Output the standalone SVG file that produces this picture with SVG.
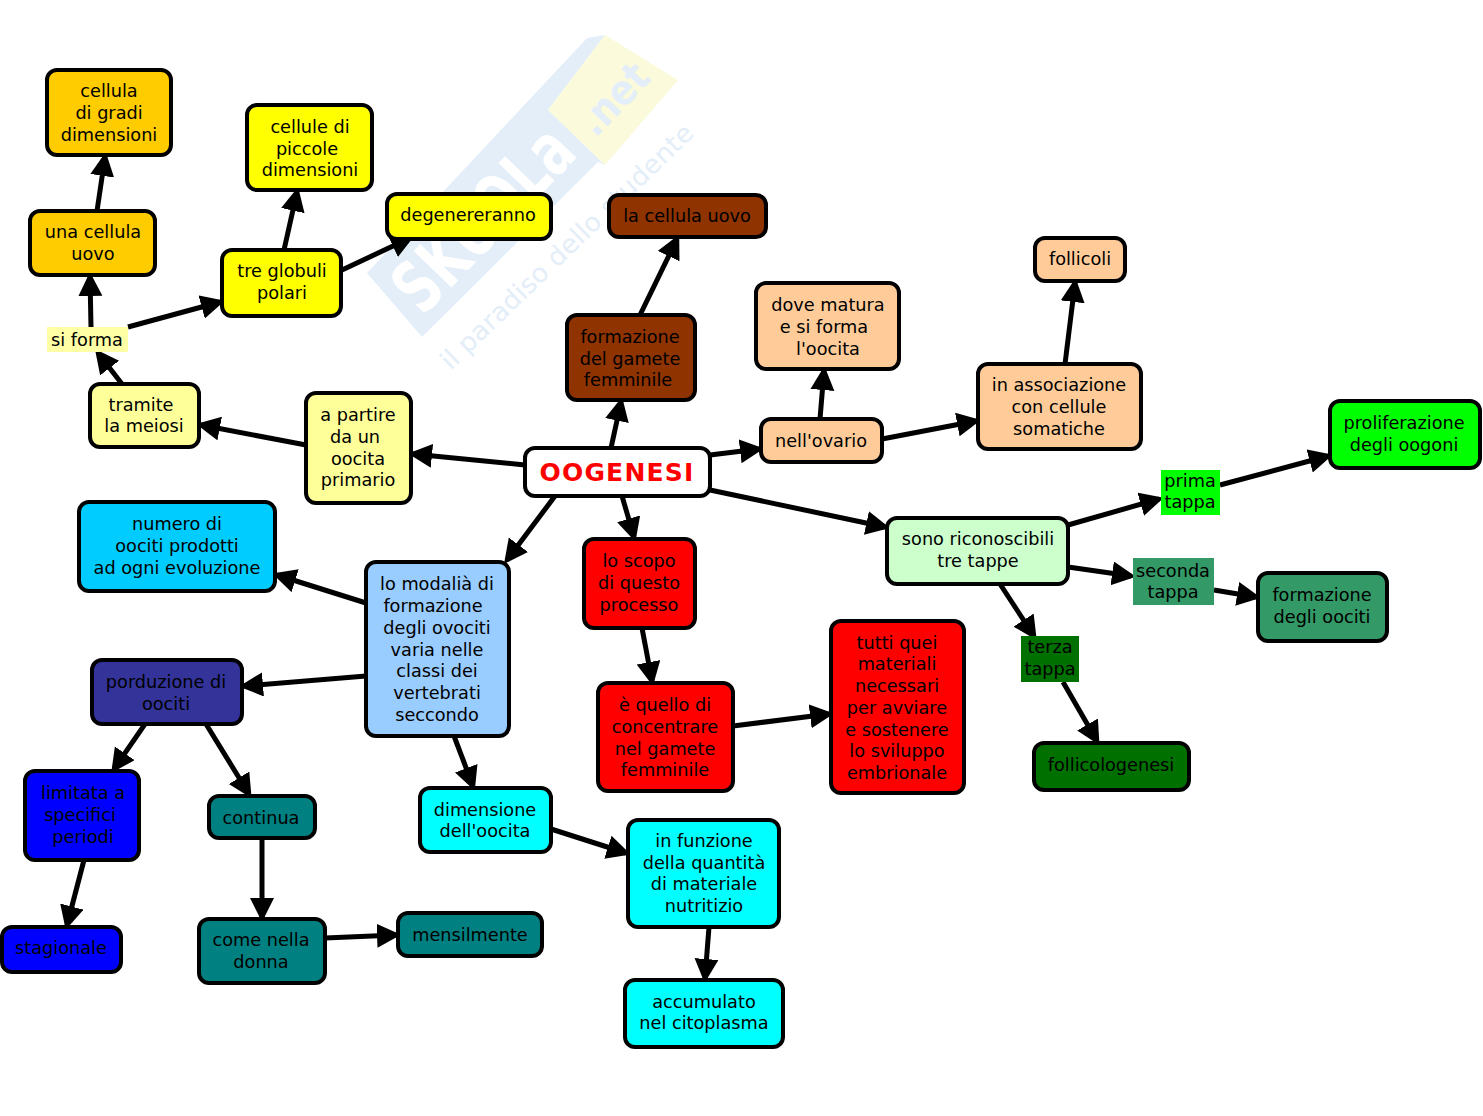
<svg xmlns="http://www.w3.org/2000/svg" width="1483" height="1116" viewBox="0 0 1483 1116">
<style>
text{font-family:"DejaVu Sans",Verdana,sans-serif;font-size:17.7px;fill:#000;text-anchor:middle}
.n{stroke:#000;stroke-width:4}
.c line{stroke:#000;stroke-width:5;marker-end:url(#a)}
</style>
<defs>
<marker id="a" markerUnits="userSpaceOnUse" markerWidth="26" markerHeight="26" refX="19" refY="12" orient="auto"><path d="M0 0L24 12L0 24Z" fill="#000"/></marker>
</defs>
<rect width="1483" height="1116" fill="#fff"/>
<g id="watermark">
<polygon points="367,273 587,38 605,35 548,110 605,165 598,162 422,337" fill="#e3eef8"/>
<polygon points="605,35 678,80 605,165 548,110" fill="#fbfbdc"/>
<text x="0" y="0" transform="translate(501,236) rotate(-46)" textLength="225" lengthAdjust="spacingAndGlyphs" style="font-size:72px;font-weight:bold;fill:#fff">SKUOLa</text>
<text x="0" y="0" transform="translate(624,109) rotate(-46)" textLength="82" lengthAdjust="spacingAndGlyphs" style="font-size:42px;font-weight:bold;fill:#e3eef8">.net</text>
<text x="0" y="0" transform="translate(573,253) rotate(-44)" textLength="340" lengthAdjust="spacingAndGlyphs" style="font-size:26px;fill:#e4eef8">il paradiso dello studente</text>
</g>
<g id="connectors" class="c">
<line x1="525" y1="465" x2="413" y2="454"/>
<line x1="306" y1="445" x2="201" y2="425"/>
<line x1="122" y1="384" x2="98" y2="353"/>
<line x1="91" y1="327" x2="90" y2="277"/>
<line x1="97" y1="211" x2="105" y2="157"/>
<line x1="128" y1="327" x2="220" y2="302"/>
<line x1="284" y1="250" x2="297" y2="192"/>
<line x1="342" y1="270" x2="410" y2="238"/>
<line x1="611" y1="448" x2="621" y2="402"/>
<line x1="640" y1="315" x2="677" y2="239"/>
<line x1="710" y1="455" x2="759" y2="449"/>
<line x1="820" y1="419" x2="824" y2="371"/>
<line x1="882" y1="439" x2="976" y2="421"/>
<line x1="1065" y1="364" x2="1075" y2="283"/>
<line x1="710" y1="490" x2="885" y2="527"/>
<line x1="1068" y1="525" x2="1159" y2="499"/>
<line x1="1220" y1="485" x2="1328" y2="456"/>
<line x1="1068" y1="567" x2="1131" y2="576"/>
<line x1="1214" y1="590" x2="1256" y2="597"/>
<line x1="1000" y1="584" x2="1034" y2="636"/>
<line x1="1063" y1="682" x2="1097" y2="741"/>
<line x1="622" y1="496" x2="634" y2="537"/>
<line x1="642" y1="628" x2="652" y2="681"/>
<line x1="733" y1="726" x2="829" y2="714"/>
<line x1="555" y1="496" x2="507" y2="560"/>
<line x1="366" y1="603" x2="277" y2="575"/>
<line x1="366" y1="676" x2="244" y2="686"/>
<line x1="454" y1="736" x2="473" y2="786"/>
<line x1="551" y1="829" x2="626" y2="853"/>
<line x1="709" y1="927" x2="705" y2="978"/>
<line x1="145" y1="724" x2="114" y2="769"/>
<line x1="206" y1="724" x2="249" y2="794"/>
<line x1="84" y1="860" x2="67" y2="925"/>
<line x1="262" y1="838" x2="262" y2="917"/>
<line x1="325" y1="938" x2="396" y2="935"/>
</g>
<g id="n-oogenesi"><rect class="n" x="525" y="448" width="185" height="48" rx="10" fill="#fff"/><text x="617" y="481" style="font-size:25px;font-weight:bold;fill:#f00;letter-spacing:1.2px">OOGENESI</text></g>
<g id="n1"><rect class="n" x="47" y="70" width="124" height="85" rx="10" fill="#fc0"/><text x="109" y="97">cellula</text><text x="109" y="119">di gradi</text><text x="109" y="141">dimensioni</text></g>
<g id="n2"><rect class="n" x="30" y="211" width="125" height="64" rx="10" fill="#fc0"/><text x="93" y="238">una cellula</text><text x="93" y="260">uovo</text></g>
<g id="n3"><rect class="n" x="247" y="105" width="125" height="85" rx="10" fill="#ff0"/><text x="310" y="133">cellule di</text><text x="307" y="155">piccole</text><text x="310" y="176">dimensioni</text></g>
<g id="n4"><rect class="n" x="222" y="250" width="119" height="66" rx="10" fill="#ff0"/><text x="282" y="277">tre globuli</text><text x="282" y="299">polari</text></g>
<g id="n5"><rect class="n" x="387" y="194" width="164" height="45" rx="10" fill="#ff0"/><text x="468" y="221">degenereranno</text></g>
<g id="n6"><rect class="n" x="609" y="195" width="157" height="42" rx="10" fill="#8f3300"/><text x="687" y="222">la cellula uovo</text></g>
<g id="n7"><rect class="n" x="567" y="315" width="128" height="85" rx="10" fill="#8f3300"/><text x="630" y="343">formazione</text><text x="630" y="365">del gamete</text><text x="628" y="386">femminile</text></g>
<g id="n8"><rect class="n" x="1035" y="238" width="90" height="43" rx="10" fill="#fc9"/><text x="1080" y="265">follicoli</text></g>
<g id="n9"><rect class="n" x="756" y="283" width="143" height="86" rx="10" fill="#fc9"/><text x="828" y="311">dove matura</text><text x="824" y="333">e si forma</text><text x="828" y="355">l'oocita</text></g>
<g id="n10"><rect class="n" x="978" y="364" width="163" height="85" rx="10" fill="#fc9"/><text x="1059" y="391">in associazione</text><text x="1059" y="413">con cellule</text><text x="1059" y="435">somatiche</text></g>
<g id="n11"><rect class="n" x="761" y="419" width="121" height="43" rx="10" fill="#fc9"/><text x="821" y="447">nell'ovario</text></g>
<g id="n12"><rect class="n" x="90" y="384" width="109" height="63" rx="10" fill="#ff9"/><text x="141" y="411">tramite</text><text x="144" y="432">la meiosi</text></g>
<g id="n13"><rect class="n" x="306" y="393" width="105" height="110" rx="10" fill="#ff9"/><text x="358" y="421">a partire</text><text x="355" y="443">da un</text><text x="358" y="465">oocita</text><text x="358" y="486">primario</text></g>
<g id="n14"><rect x="47" y="327" width="81" height="25" fill="#ffffa6"/><text x="87" y="346">si forma</text></g>
<g id="n15"><rect class="n" x="1330" y="401" width="150" height="67" rx="10" fill="#0f0"/><text x="1404" y="429">proliferazione</text><text x="1404" y="451">degli oogoni</text></g>
<g id="n16"><rect class="n" x="79" y="502" width="196" height="89" rx="10" fill="#0cf"/><text x="177" y="530">numero di</text><text x="177" y="552">oociti prodotti</text><text x="177" y="574">ad ogni evoluzione</text></g>
<g id="n17"><rect class="n" x="366" y="562" width="143" height="174" rx="10" fill="#9cf"/><text x="437" y="590">lo modalià di</text><text x="433" y="612">formazione</text><text x="437" y="634">degli ovociti</text><text x="437" y="656">varia nelle</text><text x="437" y="677">classi dei</text><text x="437" y="699">vertebrati</text><text x="437" y="721">seccondo</text></g>
<g id="n18"><rect class="n" x="584" y="539" width="111" height="89" rx="10" fill="#f00"/><text x="639" y="567">lo scopo</text><text x="639" y="589">di questo</text><text x="639" y="611">processo</text></g>
<g id="n19"><rect class="n" x="887" y="518" width="181" height="66" rx="10" fill="#cfc"/><text x="978" y="545">sono riconoscibili</text><text x="978" y="567">tre tappe</text></g>
<g id="n20"><rect x="1161" y="470" width="59" height="45" fill="#0f0"/><text x="1190" y="487">prima</text><text x="1190" y="508">tappa</text></g>
<g id="n21"><rect x="1133" y="558" width="81" height="47" fill="#396"/><text x="1173" y="577">seconda</text><text x="1173" y="598">tappa</text></g>
<g id="n22"><rect class="n" x="1258" y="573" width="129" height="68" rx="10" fill="#396"/><text x="1322" y="601">formazione</text><text x="1322" y="623">degli oociti</text></g>
<g id="n23"><rect x="1021" y="636" width="58" height="46" fill="#007000"/><text x="1050" y="653">terza</text><text x="1050" y="675">tappa</text></g>
<g id="n24"><rect class="n" x="1034" y="743" width="155" height="47" rx="10" fill="#007000"/><text x="1111" y="771">follicologenesi</text></g>
<g id="n25"><rect class="n" x="92" y="660" width="150" height="64" rx="10" fill="#339"/><text x="166" y="688">porduzione di</text><text x="166" y="710">oociti</text></g>
<g id="n26"><rect class="n" x="598" y="683" width="135" height="108" rx="10" fill="#f00"/><text x="665" y="711">è quello di</text><text x="665" y="733">concentrare</text><text x="665" y="755">nel gamete</text><text x="665" y="776">femminile</text></g>
<g id="n27"><rect class="n" x="831" y="621" width="133" height="172" rx="10" fill="#f00"/><text x="897" y="649">tutti quei</text><text x="897" y="670">materiali</text><text x="897" y="692">necessari</text><text x="897" y="714">per avviare</text><text x="897" y="736">e sostenere</text><text x="897" y="757">lo sviluppo</text><text x="897" y="779">embrionale</text></g>
<g id="n28"><rect class="n" x="25" y="771" width="114" height="89" rx="10" fill="#00f"/><text x="83" y="799">limitata a</text><text x="80" y="821">specifici</text><text x="83" y="843">periodi</text></g>
<g id="n29"><rect class="n" x="209" y="796" width="106" height="42" rx="10" fill="#008080"/><text x="261" y="824">continua</text></g>
<g id="n30"><rect class="n" x="420" y="788" width="131" height="64" rx="10" fill="#0ff"/><text x="485" y="816">dimensione</text><text x="485" y="837">dell'oocita</text></g>
<g id="n31"><rect class="n" x="628" y="820" width="151" height="107" rx="10" fill="#0ff"/><text x="704" y="847">in funzione</text><text x="704" y="869">della quantità</text><text x="704" y="890">di materiale</text><text x="704" y="912">nutritizio</text></g>
<g id="n32"><rect class="n" x="2" y="927" width="119" height="45" rx="10" fill="#00f"/><text x="61" y="954">stagionale</text></g>
<g id="n33"><rect class="n" x="199" y="919" width="126" height="64" rx="10" fill="#008080"/><text x="261" y="946">come nella</text><text x="261" y="968">donna</text></g>
<g id="n34"><rect class="n" x="398" y="913" width="144" height="43" rx="10" fill="#008080"/><text x="470" y="941">mensilmente</text></g>
<g id="n35"><rect class="n" x="625" y="980" width="158" height="67" rx="10" fill="#0ff"/><text x="704" y="1008">accumulato</text><text x="704" y="1029">nel citoplasma</text></g>
</svg>
